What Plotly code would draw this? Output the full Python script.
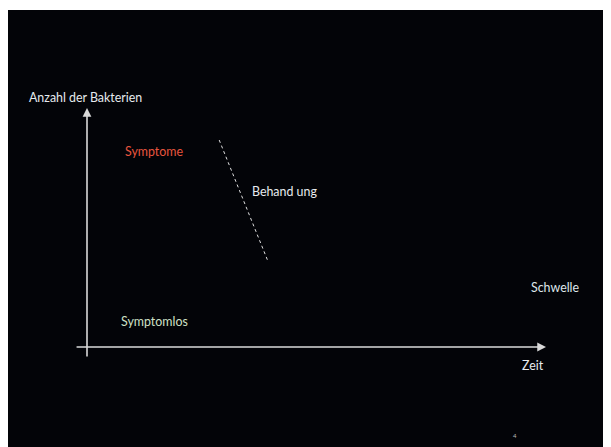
import plotly.graph_objects as go

# Schematic coordinates (time units on x, bacteria units on y)
x_axis_x = [-0.26, 10.0]
x_axis_y = [0.0, 0.0]
y_axis_x = [0.0, 0.0]
y_axis_y = [-0.46, 10.0]

treatment_x = [2.88, 3.94]
treatment_y = [8.66, 3.60]

labels = ["Anzahl der Bakterien", "Symptome", "Behand ung", "Schwelle", "Symptomlos", "Zeit"]
label_x = [-0.04, 1.47, 4.30, 10.21, 1.48, 9.71]
label_y = [10.46, 8.16, 6.49, 2.51, 1.05, -0.79]
label_colors = ["#e6eaee", "#e8553e", "#e8ecef", "#dfe6ea", "#cfe0c6", "#e8ecef"]

page_number = "4"

W, H = 611, 447
fig = go.Figure()

# treatment dotted line
fig.add_trace(go.Scatter(x=treatment_x, y=treatment_y, mode="lines",
                         line=dict(color="#e0e0e0", width=1, dash="dot"),
                         hoverinfo="skip", showlegend=False))

# axes as arrows
fig.add_annotation(x=x_axis_x[1], y=x_axis_y[1], ax=x_axis_x[0], ay=x_axis_y[0],
                   xref="x", yref="y", axref="x", ayref="y", text="",
                   showarrow=True, arrowhead=2, arrowsize=1.1, arrowwidth=1.6,
                   arrowcolor="#d9d9d9")
fig.add_annotation(x=y_axis_x[1], y=y_axis_y[1], ax=y_axis_x[0], ay=y_axis_y[0],
                   xref="x", yref="y", axref="x", ayref="y", text="",
                   showarrow=True, arrowhead=2, arrowsize=1.1, arrowwidth=1.6,
                   arrowcolor="#d9d9d9")

for t, x, y, c in zip(labels, label_x, label_y, label_colors):
    fig.add_annotation(x=x, y=y, xref="x", yref="y", text=t, showarrow=False,
                       font=dict(family="Lato", size=12.4, color=c),
                       xanchor="center", yanchor="middle")

fig.add_annotation(x=511 / W, y=1 - 433 / H, xref="paper", yref="paper",
                   text=page_number, showarrow=False,
                   font=dict(family="Lato", size=6, color="#bbbbbb"))

# black slide area
fig.add_shape(type="rect", xref="paper", yref="paper",
              x0=0, x1=1, y0=0, y1=1 - 2 / H,
              fillcolor="#030408", line=dict(width=0), layer="below")

fig.update_layout(
    width=W, height=H,
    margin=dict(l=0, r=0, t=0, b=0),
    paper_bgcolor="white", plot_bgcolor="rgba(0,0,0,0)",
    xaxis=dict(range=[-1.721, 11.590], visible=False, fixedrange=True),
    yaxis=dict(range=[-4.519, 14.184], visible=False, fixedrange=True),
    showlegend=False,
)

fig.write_html("out.html")
